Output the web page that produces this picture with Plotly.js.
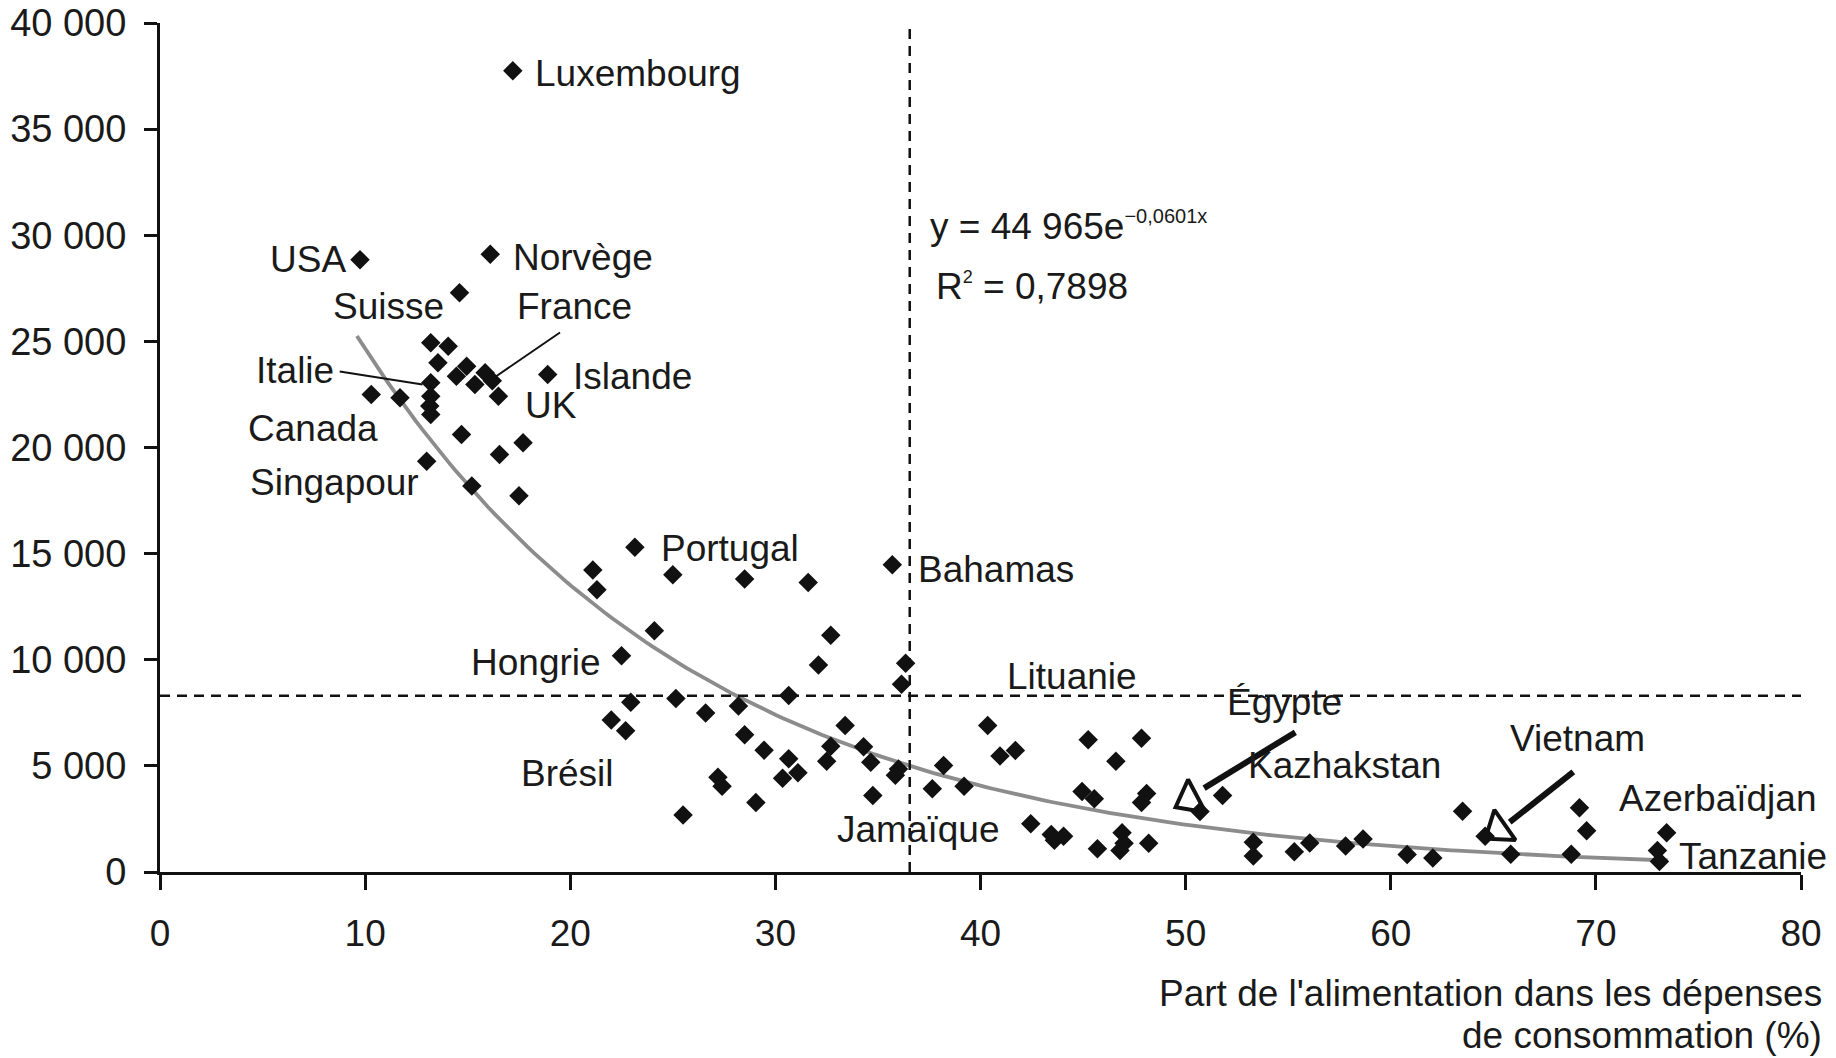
<!DOCTYPE html>
<html>
<head>
<meta charset="utf-8">
<script src="https://cdn.plot.ly/plotly-3.0.1.min.js"></script>
<style>html,body{margin:0;padding:0;background:#fff;}#chart{width:1836px;height:1058px;}</style>
</head>
<body>
<div id="chart"></div>
<script>
// Part de l'alimentation (%) and PIB/hab values
const foodShare = [17.2,9.75,16.1,14.6,13.2,14.05,13.55,14.95,14.45,15.35,15.85,16.2,13.2,13.2,13.15,13.2,16.5,18.9,10.3,11.7,14.7,17.7,16.55,13.0,15.2,17.5,
  23.15,21.1,21.3,25.0,28.5,31.6,35.7,24.1,32.7,22.5,32.1,36.35,36.15,30.65,25.15,22.95,28.2,26.6,22.0,22.7,33.4,28.5,29.45,32.7,32.5,30.65,31.1,30.35,34.3,34.65,36.0,35.85,27.2,27.4,29.05,34.75,25.5,
  37.65,38.2,39.2,40.35,40.95,41.7,45.25,47.85,46.6,44.95,45.55,47.85,48.1,51.8,50.7,42.45,43.45,44.05,43.6,45.7,46.9,47.0,46.8,48.2,
  53.3,53.3,55.3,56.05,57.8,58.65,60.8,62.05,63.5,64.6,65.85,68.8,69.2,69.55,73.45,73.0,73.1];
const income = [37750,28850,29100,27290,24930,24770,23990,23830,23360,22970,23520,23150,23050,22420,21950,21550,22420,23440,22500,22340,20610,20220,19670,19350,18190,17730,
  15300,14230,13300,14010,13810,13640,14480,11370,11150,10190,9750,9830,8840,8320,8170,8000,7820,7490,7160,6650,6900,6470,5740,5930,5220,5330,4680,4420,5900,5170,4850,4560,4460,4040,3270,3600,2690,
  3920,5020,4040,6900,5470,5730,6230,6300,5220,3790,3450,3280,3700,3600,2850,2270,1770,1680,1500,1090,1850,1350,1010,1350,
  1400,750,950,1370,1230,1560,830,660,2860,1680,840,840,3030,1940,1850,1010,500];

// Trend line coefficients shown on the chart: y = 44 965 e^(-0,0601x)
const trendA = 44965;
const trendB = -0.0601;
const trendStart = 9.6, trendEnd = 73.5;

// Mean lines (dashed)
const meanShare = 36.55;
const meanIncome = 8300;

const xTicks = [0,10,20,30,40,50,60,70,80];
const yTicks = [0,5000,10000,15000,20000,25000,30000,35000,40000];

const countryLabels = [
  {t:'Luxembourg', x:18.17, y:37630, a:'left'},
  {t:'USA', x:9.15, y:28850, a:'right'},
  {t:'Norvège', x:17.13, y:28960, a:'left'},
  {t:'Suisse', x:13.95, y:26650, a:'right'},
  {t:'France', x:17.3, y:26650, a:'left'},
  {t:'Italie', x:8.6, y:23610, a:'right'},
  {t:'Islande', x:20.05, y:23340, a:'left'},
  {t:'UK', x:17.7, y:21960, a:'left'},
  {t:'Canada', x:4.17, y:20910, a:'left'},
  {t:'Singapour', x:4.28, y:18370, a:'left'},
  {t:'Portugal', x:24.33, y:15230, a:'left'},
  {t:'Bahamas', x:36.84, y:14230, a:'left'},
  {t:'Hongrie', x:21.6, y:9875, a:'right'},
  {t:'Lituanie', x:41.18, y:9210, a:'left'},
  {t:'Égypte', x:51.9, y:8000, a:'left'},
  {t:'Brésil', x:17.48, y:4630, a:'left'},
  {t:'Kazhakstan', x:52.94, y:5020, a:'left'},
  {t:'Vietnam', x:65.73, y:6290, a:'left'},
  {t:'Jamaïque', x:32.9, y:1990, a:'left'},
  {t:'Azerbaïdjan', x:71.05, y:3480, a:'left'},
  {t:'Tanzanie', x:73.96, y:720, a:'left'}
];

// leader lines (data coords) and arrow heads
const leaders = [
  {x0:19.5, y0:25420, x1:16.3, y1:23300, w:2},
  {x0:8.76, y0:23580, x1:12.8, y1:22970, w:2},
  {x0:55.35, y0:6580, x1:50.9, y1:3950, w:6},
  {x0:68.9, y0:4715, x1:65.8, y1:2350, w:6}
];
const heads = {x:[50.2,65.25], y:[3410,2000], angle:[242,235]};

const trendX = [], trendY = [];
for (let i = 0; i <= 200; i++) {
  const x = trendStart + (trendEnd - trendStart) * i / 200;
  trendX.push(x);
  trendY.push(trendA * Math.exp(trendB * x));
}

const FONT = 'Liberation Sans, Arial, Helvetica, sans-serif';
const TXT = '#1a1a1a';

const traces = [
  {x: trendX, y: trendY, type:'scatter', mode:'lines', line:{color:'#8c8c8c', width:3.8}, hoverinfo:'skip'},
  {x: foodShare, y: income, type:'scatter', mode:'markers',
   marker:{symbol:'diamond', size:15, color:'#111', line:{width:0}}},
  {x: heads.x, y: heads.y, type:'scatter', mode:'markers',
   marker:{symbol:'triangle-up-open', size:32, angle:heads.angle, color:'#111', line:{width:4, color:'#111'}}}
];

const shapes = [
  {type:'line', xref:'x', yref:'y', x0:meanShare, x1:meanShare, y0:0, y1:40000, line:{color:'#111', width:2.5, dash:'10px,7px'}},
  {type:'line', xref:'x', yref:'y', x0:0, x1:80, y0:meanIncome, y1:meanIncome, line:{color:'#111', width:2.5, dash:'10px,7px'}}
].concat(leaders.map(l => ({type:'line', xref:'x', yref:'y', x0:l.x0, y0:l.y0, x1:l.x1, y1:l.y1, line:{color:'#111', width:l.w}})));

const annotations = countryLabels.map(c => ({
  x:c.x, y:c.y, xref:'x', yref:'y', text:c.t, showarrow:false,
  xanchor:c.a, yanchor:'middle', font:{family:FONT, size:37, color:TXT}
}));
annotations.push(
  {x:37.45, y:30450, xref:'x', yref:'y', showarrow:false, xanchor:'left', yanchor:'middle',
   text:'y = 44 965e<sup><span style="font-size:20px">−0,0601x</span></sup>', font:{family:FONT, size:37, color:TXT}},
  {x:37.75, y:27590, xref:'x', yref:'y', showarrow:false, xanchor:'left', yanchor:'middle',
   text:'R<sup><span style="font-size:18px">2</span></sup> = 0,7898', font:{family:FONT, size:37, color:TXT}},
  {x:1.014, y:-0.143, xref:'paper', yref:'paper', showarrow:false, xanchor:'right', yanchor:'middle',
   text:"Part de l'alimentation dans les dépenses", font:{family:FONT, size:37, color:TXT}},
  {x:1.014, y:-0.192, xref:'paper', yref:'paper', showarrow:false, xanchor:'right', yanchor:'middle',
   text:'de consommation (%)', font:{family:FONT, size:37, color:TXT}}
);

const layout = {
  width:1836, height:1058,
  margin:{l:160, r:35, t:23, b:186, pad:0},
  paper_bgcolor:'#fff', plot_bgcolor:'#fff',
  showlegend:false,
  separators:', ',
  font:{family:FONT, color:TXT},
  xaxis:{range:[0,80], tickvals:xTicks, ticktext:xTicks.map(String), showgrid:false, zeroline:false,
         showline:true, linecolor:'#111', linewidth:3, ticks:'outside', ticklen:15, tickwidth:3, tickcolor:'#111',
         tickfont:{family:FONT, size:37, color:TXT}, ticklabelstandoff:12, fixedrange:true},
  yaxis:{range:[0,40000], tickvals:yTicks, tickformat:',d', showgrid:false, zeroline:false,
         showline:true, linecolor:'#111', linewidth:3, ticks:'outside', ticklen:13, tickwidth:3, tickcolor:'#111',
         tickfont:{family:FONT, size:38, color:TXT}, ticklabelstandoff:10, fixedrange:true},
  shapes: shapes,
  annotations: annotations
};

Plotly.newPlot('chart', traces, layout, {displayModeBar:false, staticPlot:true});
</script>
</body>
</html>
